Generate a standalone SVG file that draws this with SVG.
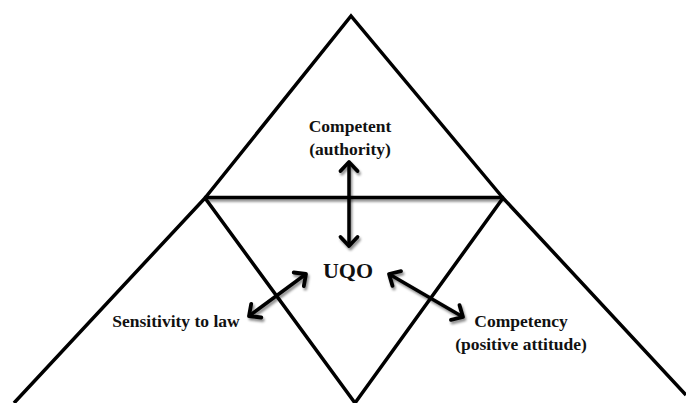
<svg xmlns="http://www.w3.org/2000/svg" width="686" height="403" viewBox="0 0 686 403">
<style>
.ln{stroke:#000;stroke-width:3.5;fill:none;stroke-linecap:butt}
.lbl{font-family:"Liberation Serif","Times New Roman",serif;font-weight:bold;font-size:17.5px;fill:#111;text-anchor:middle}
.big{font-size:22px}
.arr{stroke:#000;stroke-width:3.5;fill:none;marker-start:url(#hd);marker-end:url(#hd)}
</style>
<defs>
<filter id="sh" filterUnits="userSpaceOnUse" x="0" y="0" width="686" height="403">
<feDropShadow dx="1.5" dy="2.5" stdDeviation="1.2" flood-color="#000" flood-opacity="0.45"/>
</filter>
<marker id="hd" markerUnits="userSpaceOnUse" viewBox="-14 -12 18 24" refX="0" refY="0" markerWidth="18" markerHeight="24" orient="auto-start-reverse">
<path d="M-9,-8.5 L0,0 L-9,8.5" fill="none" stroke="#000" stroke-width="3.8" stroke-linecap="round" stroke-linejoin="round"/>
</marker>
</defs>
<rect width="686" height="403" fill="#fff"/>
<g id="shapes">
<path class="ln" d="M205,198 L351,16 L503,198"/>
<path class="ln" d="M14,403 L205,198 L355,403 L503,198 L686,395"/>
<line class="ln" x1="205" y1="197.5" x2="503" y2="197.5" filter="url(#sh)"/>
</g>
<g id="connectors" filter="url(#sh)">
<line class="arr" x1="349" y1="162" x2="349" y2="246"/>
<line class="arr" x1="249" y1="316" x2="306" y2="274"/>
<line class="arr" x1="389" y1="274" x2="463" y2="317"/>
</g>
<g id="node-competent">
<text class="lbl" x="350" y="132">Competent</text>
<text class="lbl" x="350" y="155">(authority)</text>
</g>
<g id="node-uqo">
<text class="lbl big" x="348" y="278">UQO</text>
</g>
<g id="node-sensitivity">
<text class="lbl" x="176" y="327">Sensitivity to law</text>
</g>
<g id="node-competency">
<text class="lbl" x="521" y="327">Competency</text>
<text class="lbl" x="521" y="350">(positive attitude)</text>
</g>
</svg>
